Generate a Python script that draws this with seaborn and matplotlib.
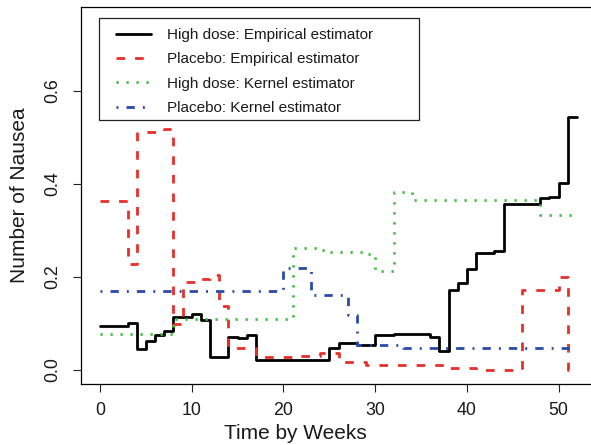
import matplotlib
matplotlib.use("Agg")
import matplotlib.pyplot as plt
import seaborn as sns
from matplotlib.patches import Rectangle

# Change points (weeks) and levels of each step-function estimate
hd_emp_weeks = [0, 3, 4, 5, 6, 7, 8, 10, 11, 12, 14, 15, 16, 17, 25, 26, 28, 30,
                32, 36, 37, 38, 39, 40, 41, 43, 44, 48, 49, 50, 51, 52]
hd_emp_vals = [0.095, 0.101, 0.046, 0.062, 0.076, 0.083, 0.114, 0.120, 0.108,
               0.027, 0.072, 0.069, 0.075, 0.022, 0.047, 0.058, 0.053, 0.076,
               0.078, 0.070, 0.042, 0.173, 0.187, 0.218, 0.251, 0.256, 0.358,
               0.369, 0.372, 0.403, 0.544, 0.544]

pl_emp_weeks = [0, 3, 4, 7, 8, 9, 11, 12, 13, 14, 17, 21, 24, 26, 29, 38, 41,
                46, 50, 51, 52]
pl_emp_vals = [0.363, 0.227, 0.511, 0.518, 0.098, 0.189, 0.196, 0.205, 0.137,
               0.047, 0.028, 0.031, 0.037, 0.017, 0.011, 0.004, 0.0, 0.173,
               0.200, 0.0, 0.0]

hd_ker_weeks = [0, 8, 21, 24, 25, 29, 30, 32, 34, 48, 52]
hd_ker_vals = [0.078, 0.110, 0.263, 0.259, 0.254, 0.249, 0.212, 0.383, 0.366,
               0.333, 0.333]

pl_ker_weeks = [0, 20, 23, 27, 28, 33, 52]
pl_ker_vals = [0.171, 0.219, 0.161, 0.119, 0.053, 0.047, 0.047]

labels = ["High dose: Empirical estimator", "Placebo: Empirical estimator",
          "High dose: Kernel estimator", "Placebo: Kernel estimator"]

x_ticks = [0, 10, 20, 30, 40, 50]
y_ticks = [0.0, 0.2, 0.4, 0.6]
y_tick_labels = ["0.0", "0.2", "0.4", "0.6"]

sns.set_style("ticks")
plt.rcParams["font.family"] = ["Liberation Sans", "DejaVu Sans"]

W, H = 591, 445
fig = plt.figure(figsize=(W / 100, H / 100), dpi=100)
ax_left, ax_right, ax_top, ax_bottom = 81, 596, 7.3, 384
ax = fig.add_axes([ax_left / W, (H - ax_bottom) / H,
                   (ax_right - ax_left) / W, (ax_bottom - ax_top) / H])

series = [
    (hd_emp_weeks, hd_emp_vals, "black", "-"),
    (pl_emp_weeks, pl_emp_vals, "#E8302A", (0, (3.1, 3.6))),
    (hd_ker_weeks, hd_ker_vals, "#3DBE3D", (0, (0.8, 2.8))),
    (pl_ker_weeks, pl_ker_vals, "#2B4BAA", (0, (0.7, 2.9, 3.0, 2.9))),
]
for (wk, vals, col, ls), lab in zip(series, labels):
    sns.lineplot(x=wk, y=vals, ax=ax, color=col, linestyle=ls, linewidth=2.0,
                 drawstyle="steps-post", label=lab, sort=False)

ax.set_xlim(-2.08, 54.08)
ax.set_ylim(-0.03, 0.78)
ax.set_xticks(x_ticks)
ax.set_xticklabels([str(t) for t in x_ticks])
ax.set_yticks(y_ticks)
ax.set_yticklabels(y_tick_labels, rotation=90, va="center")

for sp in ax.spines.values():
    sp.set_visible(True)
    sp.set_color("black")
    sp.set_linewidth(0.9)
ax.tick_params(direction="out", length=5.8, width=0.8, color="#222222",
               labelsize=12.8, labelcolor="#1a1a1a")
ax.tick_params(axis="x", pad=7.5)
ax.tick_params(axis="y", pad=8.5)

ax.set_xlabel("Time by Weeks", fontsize=15, color="#1a1a1a")
ax.set_ylabel("Number of Nausea", fontsize=15, color="#1a1a1a")
ax.xaxis.set_label_coords((295 - ax_left) / (ax_right - ax_left),
                          -(424 - ax_bottom) / (ax_bottom - ax_top))
ax.yaxis.set_label_coords(-(ax_left - 29) / (ax_right - ax_left), 0.5)

# legend contents without frame; the box is drawn separately
leg = ax.legend(loc="upper left", bbox_to_anchor=(116 / W, 1 - 28 / H),
                bbox_transform=fig.transFigure, frameon=False, fontsize=11,
                borderpad=0, borderaxespad=0, handlelength=2.29,
                handletextpad=1.05, labelspacing=0.68)
for t in leg.get_texts():
    t.set_color("#1a1a1a")
fig.add_artist(Rectangle((99 / W, 1 - 120 / H), 320 / W, 102 / H,
                         transform=fig.transFigure, fill=False,
                         edgecolor="#222222", linewidth=0.9))

fig.savefig("out.png", dpi=100)
